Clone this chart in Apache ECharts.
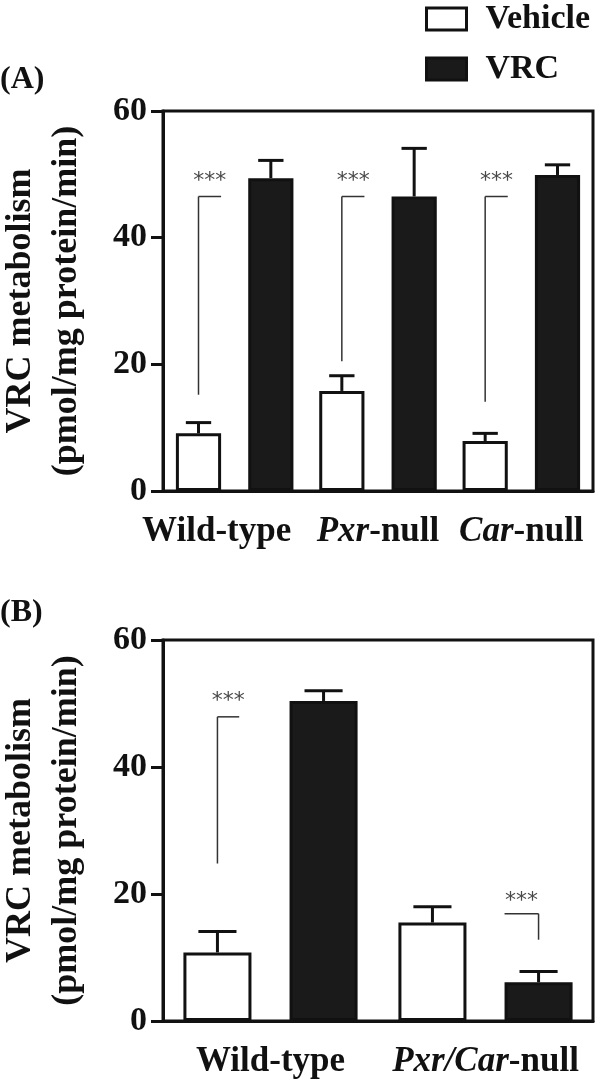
<!DOCTYPE html>
<html><head><meta charset="utf-8">
<script src="https://cdn.jsdelivr.net/npm/echarts@6/dist/echarts.min.js"></script>
<style>html,body{margin:0;padding:0;background:#fff}#c{width:600px;height:1082px}</style>
</head><body><div id="c"></div>
<script>
// ---------- data ----------
const seriesNames = ['Vehicle', 'VRC'];
const catsA = ['Wild-type', 'Pxr-null', 'Car-null'];
const vehicleA = [9.1, 15.8, 7.9];
const vehicleErrA = [1.7, 2.4, 1.2];
const vrcA = [49.4, 46.5, 49.9];
const vrcErrA = [2.8, 7.6, 1.6];

const catsB = ['Wild-type', 'Pxr/Car-null'];
const vehicleB = [10.8, 15.5];
const vehicleErrB = [3.3, 2.5];
const vrcB = [50.4, 6.1];
const vrcErrB = [1.6, 1.7];

const yMin = 0, yMax = 60, yStep = 20;
const yTitle = 'VRC metabolism\n(pmol/mg protein/min)';
const panelLabels = ['(A)', '(B)'];

// significance brackets (values on y scale)
const sigCatA = [0, 1, 2];
const sigLowA = [15.2, 20.5, 14.1];
const sigHighA = [46.5, 46.5, 46.5];
const sigStarA = [49.9, 49.9, 49.9];
const sigCatB = [0, 1];
const sigLowB = [24.8, 12.8];
const sigHighB = [47.9, 16.9];
const sigStarB = [51.3, 19.8];
const sigText = '***';

// ---------- layout ----------
const FONT = 'Liberation Serif';
const INK = '#111';
const layA = {cg: 0.18, g: 0.6};
const layB = {cg: 0.19, g: 0.56};
// bracket geometry: which bar the vertical sits on, horizontal span as fraction of bar width
const brA = [{bar: 0, h: [0, 0.5]}, {bar: 0, h: [0, 0.5]}, {bar: 0, h: [0, 0.5]}];
const brB = [{bar: 0, h: [0, 0.32]}, {bar: 1, h: [-0.5, 0]}];

function barPos(band, lay, i) {
  const inner = band * (1 - lay.cg);
  const w = inner / (2 + lay.g);
  return {w: w, off: -inner / 2 + i * w * (1 + lay.g) + w / 2};
}

function errSeries(gi, idx, vals, errs, lay) {
  return {
    type: 'custom', xAxisIndex: gi, yAxisIndex: gi, z: 5,
    data: vals.map((v, i) => [i, v, errs[i]]),
    encode: {x: 0, y: 1},
    renderItem: function (params, api) {
      const c = api.value(0), v = api.value(1), e = api.value(2);
      const p0 = api.coord([c, v]), p1 = api.coord([c, v + e]);
      const band = api.size([1, 0])[0];
      const L = barPos(band, lay, idx);
      const x = p0[0] + L.off, cw = L.w * 0.56;
      const st = {stroke: INK, lineWidth: 3};
      return {type: 'group', children: [
        {type: 'line', shape: {x1: x, y1: p0[1], x2: x, y2: p1[1]}, style: st},
        {type: 'line', shape: {x1: x - cw / 2, y1: p1[1], x2: x + cw / 2, y2: p1[1]}, style: st}
      ]};
    }
  };
}

function sigSeries(gi, cats, lows, highs, stars, geo, lay) {
  return {
    type: 'custom', xAxisIndex: gi, yAxisIndex: gi, z: 6,
    data: cats.map((c, i) => [c, lows[i], highs[i], stars[i], i]),
    encode: {x: 0, y: 2},
    renderItem: function (params, api) {
      const c = api.value(0), lo = api.value(1), hi = api.value(2), s = api.value(3), k = api.value(4);
      const g = geo[k];
      const band = api.size([1, 0])[0];
      const L = barPos(band, lay, g.bar);
      const pl = api.coord([c, lo]), ph = api.coord([c, hi]), ps = api.coord([c, s]);
      const xv = pl[0] + L.off;
      const xa = xv + g.h[0] * L.w, xb = xv + g.h[1] * L.w;
      const st = {stroke: '#333', lineWidth: 1.5};
      return {type: 'group', children: [
        {type: 'line', shape: {x1: xv, y1: pl[1], x2: xv, y2: ph[1]}, style: st},
        {type: 'line', shape: {x1: xa, y1: ph[1], x2: xb, y2: ph[1]}, style: st},
        {type: 'text', style: {text: sigText, x: (xa + xb) / 2, y: ps[1] + 6, align: 'center', verticalAlign: 'middle',
          font: '22px "DejaVu Sans"', fill: '#4a4a4a'}}
      ]};
    }
  };
}

const labelRich = {
  n: {fontFamily: FONT, fontWeight: 'bold', fontSize: 35, color: INK},
  i: {fontFamily: FONT, fontWeight: 'bold', fontStyle: 'italic', fontSize: 35, color: INK},
  sp: {width: 36, fontSize: 35}
};
function catFormatter(shiftFirst) {
  return function (v, idx) {
    let s;
    if (v.endsWith('-null')) s = '{i|' + v.slice(0, -5) + '}{n|-null}';
    else s = '{n|' + v + '}';
    if (shiftFirst && idx === 0) s += '{sp| }';
    return s;
  };
}

function xAxisCfg(gi, cats, shiftFirst) {
  return {
    type: 'category', gridIndex: gi, data: cats,
    axisLine: {show: true, lineStyle: {color: INK, width: 3}},
    axisTick: {show: false},
    axisLabel: {interval: 0, margin: 23, formatter: catFormatter(shiftFirst), rich: labelRich},
    splitLine: {show: false}
  };
}
function yAxisCfg(gi) {
  return {
    type: 'value', gridIndex: gi, min: yMin, max: yMax, interval: yStep,
    axisLine: {show: true, lineStyle: {color: INK, width: 3}},
    axisTick: {show: true, inside: false, length: 12, lineStyle: {color: INK, width: 3}},
    axisLabel: {margin: 16, fontFamily: FONT, fontWeight: 'bold', fontSize: 34, color: INK},
    splitLine: {show: false},
    name: yTitle, nameLocation: 'middle', nameGap: 73, nameRotate: 90,
    nameTextStyle: {fontFamily: FONT, fontWeight: 'bold', fontSize: 36, lineHeight: 46, color: INK, align: 'center'}
  };
}
function barSeries(gi, name, vals, lay, fill) {
  return {
    type: 'bar', name: name, xAxisIndex: gi, yAxisIndex: gi, data: vals, z: 3,
    barGap: (lay.g * 100) + '%', barCategoryGap: (lay.cg * 100) + '%',
    itemStyle: {color: fill, borderColor: INK, borderWidth: 3},
    emphasis: {disabled: true}
  };
}

const option = {
  animation: false,
  backgroundColor: '#fff',
  textStyle: {fontFamily: FONT},
  legend: {
    orient: 'vertical', left: 425, top: 2, padding: 0, itemWidth: 40, itemHeight: 22, itemGap: 16,
    selectedMode: false, icon: 'rect',
    data: [
      {name: seriesNames[0], itemStyle: {color: '#fff', borderColor: INK, borderWidth: 3}},
      {name: seriesNames[1], itemStyle: {color: '#1a1a1a', borderColor: INK, borderWidth: 3}}
    ],
    formatter: n => '{t|' + n + '}',
    textStyle: {rich: {t: {fontFamily: FONT, fontWeight: 'bold', fontSize: 34, color: INK, padding: [0, 0, 0, 14]}}}
  },
  grid: [
    {left: 163, top: 111, width: 430, height: 380, show: true, borderColor: INK, borderWidth: 3, backgroundColor: 'transparent', containLabel: false, outerBoundsMode: 'none'},
    {left: 163, top: 640, width: 430, height: 381, show: true, borderColor: INK, borderWidth: 3, backgroundColor: 'transparent', containLabel: false, outerBoundsMode: 'none'}
  ],
  xAxis: [xAxisCfg(0, catsA, true), xAxisCfg(1, catsB, false)],
  yAxis: [yAxisCfg(0), yAxisCfg(1)],
  graphic: [
    {type: 'text', left: 0, top: 64, style: {text: panelLabels[0], font: 'bold 32px "Liberation Serif"', fill: INK}},
    {type: 'text', left: 0, top: 597, style: {text: panelLabels[1], font: 'bold 32px "Liberation Serif"', fill: INK}}
  ],
  series: [
    barSeries(0, seriesNames[0], vehicleA, layA, '#ffffff'),
    barSeries(0, seriesNames[1], vrcA, layA, '#1a1a1a'),
    errSeries(0, 0, vehicleA, vehicleErrA, layA),
    errSeries(0, 1, vrcA, vrcErrA, layA),
    sigSeries(0, sigCatA, sigLowA, sigHighA, sigStarA, brA, layA),
    barSeries(1, seriesNames[0], vehicleB, layB, '#ffffff'),
    barSeries(1, seriesNames[1], vrcB, layB, '#1a1a1a'),
    errSeries(1, 0, vehicleB, vehicleErrB, layB),
    errSeries(1, 1, vrcB, vrcErrB, layB),
    sigSeries(1, sigCatB, sigLowB, sigHighB, sigStarB, brB, layB)
  ]
};
const chart = echarts.init(document.getElementById('c'), null, {renderer: 'canvas'});
chart.setOption(option);
</script></body></html>
